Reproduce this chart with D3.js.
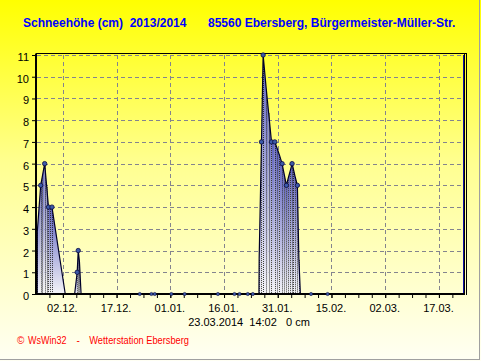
<!DOCTYPE html>
<html><head><meta charset="utf-8">
<script src="https://cdn.jsdelivr.net/npm/d3@7"></script>
<style>body{margin:0;background:#fff}svg{display:block}text{font-family:"Liberation Sans",Arial,sans-serif}</style>
</head><body>
<svg id="c" width="481" height="361"></svg>
<script>
// ---------- data ----------
const titleLeft = "Schneehöhe (cm)  2013/2014";
const titleRight = "85560 Ebersberg, Bürgermeister-Müller-Str.";
const xTickDates = ["2013-12-02T00:00","2013-12-17T00:00","2014-01-01T00:00","2014-01-16T00:00","2014-01-31T00:00","2014-02-15T00:00","2014-03-02T00:00","2014-03-17T00:00"];
const xTickLabels = ["02.12.","17.12.","01.01.","16.01.","31.01.","15.02.","02.03.","17.03."];
const yTickValues = [0,1,2,3,4,5,6,7,8,9,10,11];
const sampleTimes = [
  "2013-11-24T20:00","2013-11-24T21:00","2013-11-25T19:30","2013-11-26T07:30","2013-11-26T22:00","2013-11-27T11:00","2013-11-27T23:30","2013-11-28T11:00","2013-11-28T23:00","2013-12-02T16:00",
  "2013-12-05T07:00","2013-12-06T00:00","2013-12-06T07:00","2013-12-06T15:00","2013-12-07T02:00",
  "2014-01-25T18:00","2014-01-25T19:30","2014-01-26T11:00","2014-01-26T22:00","2014-01-27T18:00","2014-01-28T10:00","2014-01-29T06:00","2014-01-30T04:00","2014-01-30T20:00","2014-01-31T11:00","2014-02-01T05:00","2014-02-01T21:00","2014-02-02T10:00","2014-02-02T23:00","2014-02-03T13:00","2014-02-04T00:00","2014-02-04T07:00","2014-02-04T22:00","2014-02-05T11:30","2014-02-05T21:30","2014-02-06T07:30"
];
const sampleValues = [
  0,2.9,5,5.45,6,5,4,4,4,0,
  0,1,2,1.5,0,
  0,1.65,7,11,9.5,8.4,7,7,6.7,6.4,6,5.45,5,5.35,5.7,6,5.8,5.35,5,1.65,0
];
const markerTimes = ["2013-11-25T19:30","2013-11-26T22:00","2013-11-27T23:30","2013-11-28T23:00","2013-12-06T00:00","2013-12-06T07:00","2014-01-26T11:00","2014-01-26T22:00","2014-01-29T06:00","2014-01-30T04:00","2014-02-01T05:00","2014-02-02T10:00","2014-02-04T00:00","2014-02-05T11:30"];
const markerValues = [5,6,4,4,1,2,7,11,7,7,6,5,6,5];
const zeroDotTimes = ["2013-12-23T11:00","2013-12-26T17:30","2013-12-27T15:30","2014-01-01T07:00","2014-01-05T00:00","2014-01-14T07:00","2014-01-18T22:00","2014-01-20T08:00","2014-01-22T15:00","2014-01-24T01:00","2014-02-09T07:00","2014-02-13T22:00"];
const currentTime = "2014-03-23T14:02";
const statusText = "23.03.2014  14:02   0 cm";
const footerParts = ["©","WsWin32","-","Wetterstation Ebersberg"];

// ---------- setup ----------
const parse = d3.timeParse("%Y-%m-%dT%H:%M");
const svg = d3.select("#c");
const W = 481, H = 361;
const x = d3.scaleTime().domain([parse("2013-11-24T12:00"), parse("2014-03-24T00:00")]).range([36, 464]);
const y = d3.scaleLinear().domain([0, 11]).range([294, 55]);

const defs = svg.append("defs");
const bg = defs.append("linearGradient").attr("id","bg").attr("x1",0).attr("y1",0).attr("x2",0).attr("y2",1);
bg.append("stop").attr("offset",0).attr("stop-color","#ffff00");
bg.append("stop").attr("offset",0.45).attr("stop-color","#ffff90");
bg.append("stop").attr("offset",1).attr("stop-color","#fffff4");
const fg = defs.append("linearGradient").attr("id","fillg").attr("x1",0).attr("y1",0).attr("x2",0).attr("y2",1);
fg.append("stop").attr("offset",0).attr("stop-color","#5c60c0");
fg.append("stop").attr("offset",1).attr("stop-color","#f4f4f8");

svg.append("rect").attr("width",W).attr("height",H).attr("fill","url(#bg)");
// panel border
svg.append("line").attr("x1",479.5).attr("x2",479.5).attr("y1",0).attr("y2",360).attr("stroke","#a0a0a0");
svg.append("line").attr("x1",0).attr("x2",480).attr("y1",359.5).attr("y2",359.5).attr("stroke","#a0a0a0");

// ---------- grid ----------
const grid = svg.append("g").attr("stroke","#84848e").attr("stroke-width",1).attr("stroke-dasharray","4,3");
grid.selectAll("line.h").data(yTickValues.filter(v => v > 0)).join("line")
  .attr("x1",37).attr("x2",463).attr("y1",d => Math.round(y(d))+0.5).attr("y2",d => Math.round(y(d))+0.5);
grid.selectAll("line.v").data(xTickDates).join("line")
  .attr("x1",d => Math.round(x(parse(d)))+0.5).attr("x2",d => Math.round(x(parse(d)))+0.5)
  .attr("y1",55).attr("y2",293);

// ---------- samples ----------
const pts = sampleTimes.map((t,i) => ({t: parse(t), v: sampleValues[i]}));
const area = d3.area().x(d => x(d.t)).y0(y(0)).y1(d => y(d.v));
const segs = [];
for (let i = 0; i < pts.length - 1; i++) {
  if (pts[i].v > 0 || pts[i+1].v > 0) segs.push([pts[i], pts[i+1]]);
}
svg.append("g").selectAll("path").data(segs).join("path")
  .attr("d", d => area(d)).attr("fill","url(#fillg)").attr("stroke","none");

// droplines
svg.append("g").selectAll("line").data(pts.filter(p => p.v > 0)).join("line")
  .attr("x1",d => Math.round(x(d.t))+0.5).attr("x2",d => Math.round(x(d.t))+0.5)
  .attr("y1",d => y(d.v)+2).attr("y2",y(0))
  .attr("stroke","#101010").attr("stroke-width",1).attr("stroke-dasharray","1,1").attr("opacity",0.8);

// outline
const line = d3.line().x(d => x(d.t)).y(d => y(d.v));
svg.append("path").attr("d", line(pts)).attr("fill","none").attr("stroke","#000028").attr("stroke-width",1.2);

// ---------- axes ----------
const yAxis = d3.axisLeft(y).tickValues(yTickValues).tickSize(4).tickSizeOuter(0).tickPadding(3);
const gy = svg.append("g").attr("transform","translate(36,0)").call(yAxis);
gy.select(".domain").remove();
gy.selectAll("text").attr("font-size",11).attr("font-family","Liberation Sans, Arial, sans-serif").attr("fill","#000").attr("dy","0.5em");
gy.selectAll(".tick line").attr("stroke","#000");

const minorDates = d3.range(-2, 34).map(k => new Date(parse("2013-12-02T00:00").getTime() + k*90*3600*1000)).filter(d => d > x.domain()[0] && d < x.domain()[1]);
const gxm = svg.append("g").attr("transform","translate(0,294)").call(d3.axisBottom(x).tickValues(minorDates).tickSize(4).tickFormat(""));
gxm.select(".domain").remove();
gxm.selectAll(".tick line").attr("stroke","#000");

const xAxis = d3.axisBottom(x).tickValues(xTickDates.map(parse)).tickSize(4).tickSizeOuter(0).tickPadding(6)
  .tickFormat((d,i) => xTickLabels[i]);
const gx = svg.append("g").attr("transform","translate(0,294)").call(xAxis);
gx.select(".domain").remove();
gx.selectAll("text").attr("font-size",11).attr("font-family","Liberation Sans, Arial, sans-serif").attr("fill","#000").attr("dx",-1);
gx.selectAll(".tick line").attr("stroke","#000");

// axis lines and frame
svg.append("line").attr("x1",36).attr("x2",36).attr("y1",53.5).attr("y2",295).attr("stroke","#000").attr("stroke-width",2);
svg.append("line").attr("x1",35).attr("x2",465).attr("y1",294).attr("y2",294).attr("stroke","#000").attr("stroke-width",2);
svg.append("line").attr("x1",36).attr("x2",467).attr("y1",53.5).attr("y2",53.5).attr("stroke","#000");
svg.append("line").attr("x1",464.5).attr("x2",464.5).attr("y1",53.5).attr("y2",295).attr("stroke","#000");
svg.append("line").attr("x1",466.5).attr("x2",466.5).attr("y1",53.5).attr("y2",295).attr("stroke","#000");
// current time marker
svg.append("line").datum(parse(currentTime))
  .attr("x1",d => Math.round(x(d))+0.5).attr("x2",d => Math.round(x(d))+0.5).attr("y1",55).attr("y2",293)
  .attr("stroke","#1010a0").attr("stroke-width",1);

// markers
svg.append("g").selectAll("circle").data(markerTimes.map((t,i) => ({t: parse(t), v: markerValues[i]}))).join("circle")
  .attr("cx",d => x(d.t)).attr("cy",d => y(d.v)).attr("r",2.2)
  .attr("fill","#3c5aa8").attr("stroke","#0a0a40").attr("stroke-width",0.8);
svg.append("g").selectAll("circle").data(zeroDotTimes.map(parse)).join("circle")
  .attr("cx",d => x(d)).attr("cy",y(0)).attr("r",1.6)
  .attr("fill","#3c5aa8").attr("stroke","#0a0a40").attr("stroke-width",0.6);

// ---------- texts ----------
svg.append("text").attr("x",23).attr("y",27).attr("font-size",12).attr("font-weight","bold").attr("fill","#0000ff")
  .style("white-space","pre").text(titleLeft);
svg.append("text").attr("x",208).attr("y",27).attr("font-size",12).attr("font-weight","bold").attr("fill","#0000ff")
  .text(titleRight);
svg.append("text").attr("x",249).attr("y",325.5).attr("text-anchor","middle").attr("font-size",11).attr("fill","#000")
  .style("white-space","pre").text(statusText);
const fx = [17, 28, 76.5, 89.3];
const fw = [null, 38.5, null, 99.7];
footerParts.forEach((s,i) => {
  const t = svg.append("text").attr("x",fx[i]).attr("y",344).attr("font-size",10).attr("fill","#ff0000").text(s);
  if (fw[i]) t.attr("textLength",fw[i]).attr("lengthAdjust","spacingAndGlyphs");
});
</script>
</body></html>
